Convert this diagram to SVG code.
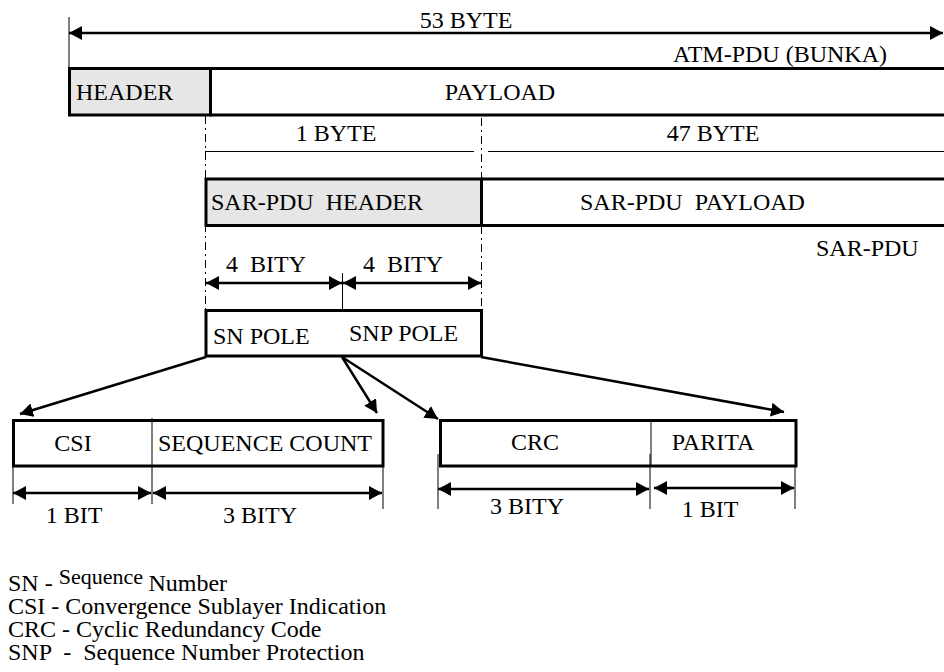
<svg xmlns="http://www.w3.org/2000/svg" width="944" height="672" viewBox="0 0 944 672">
  <style>
    text { font-family: "Liberation Serif", "Times New Roman", serif; font-size: 24px; fill: #000; white-space: pre; }
    .small { font-size: 22px; }
    .box { fill: #fff; stroke: #000; stroke-width: 3; }
    .gray { fill: #e6e6e6; }
    .thick { stroke: #000; stroke-width: 3; fill: none; }
    .dim { stroke: #000; stroke-width: 2.5; fill: none; }
    .thin { stroke: #000; stroke-width: 1; fill: none; }
    .guide { stroke: #000; stroke-width: 1; fill: none; stroke-dasharray: 8 4 2 4; }
    .mid { text-anchor: middle; }
  </style>
  <defs>
    <marker id="ah" viewBox="0 0 13 14" refX="13" refY="7" markerWidth="13" markerHeight="14" markerUnits="userSpaceOnUse" orient="auto-start-reverse">
      <path d="M0,0 L13,7 L0,14 Z" fill="#000"/>
    </marker>
  </defs>

  <!-- ATM cell: overall length -->
  <g id="atm-length">
    <line class="thin" x1="69" y1="17" x2="69" y2="68"/>
    <line class="dim" x1="69" y1="33" x2="943" y2="33" marker-start="url(#ah)" marker-end="url(#ah)"/>
    <text class="mid" x="466" y="28">53 BYTE</text>
    <text x="673" y="62">ATM-PDU (BUNKA)</text>
  </g>

  <!-- ATM cell: header + payload -->
  <g id="atm-header">
    <rect class="box gray" x="69.5" y="68.5" width="141" height="46.5"/>
    <text x="76" y="100">HEADER</text>
  </g>
  <g id="atm-payload">
    <path class="thick" d="M210,68.5 H946 M210,115 H946"/>
    <text class="mid" x="500" y="100">PAYLOAD</text>
  </g>

  <!-- byte split guides -->
  <g id="byte-split">
    <line class="guide" x1="205.5" y1="116" x2="205.5" y2="310"/>
    <line class="guide" x1="481.5" y1="118" x2="481.5" y2="310"/>
    <line class="thin" x1="205" y1="151.5" x2="474" y2="151.5"/>
    <line class="thin" x1="488" y1="151.5" x2="944" y2="151.5"/>
    <text class="mid" x="336" y="141">1 BYTE</text>
    <text class="mid" x="713" y="141">47 BYTE</text>
  </g>

  <!-- SAR-PDU -->
  <g id="sar-header">
    <rect class="box gray" x="206" y="179" width="275.5" height="46.5"/>
    <text x="211" y="210">SAR-PDU  HEADER</text>
  </g>
  <g id="sar-payload">
    <path class="thick" d="M481.5,179 H946 M481.5,225.5 H946"/>
    <text x="580" y="210">SAR-PDU  PAYLOAD</text>
    <text x="816" y="256">SAR-PDU</text>
  </g>

  <!-- 4 + 4 bits -->
  <g id="nibble-dims">
    <line class="thin" x1="342.5" y1="273" x2="342.5" y2="357"/>
    <line class="dim" x1="206" y1="283" x2="342" y2="283" marker-start="url(#ah)" marker-end="url(#ah)"/>
    <line class="dim" x1="343" y1="283" x2="481" y2="283" marker-start="url(#ah)" marker-end="url(#ah)"/>
    <text x="226" y="272">4  BITY</text>
    <text x="363" y="272">4  BITY</text>
  </g>

  <g id="sn-pole">
    <rect class="box" x="206" y="310.5" width="275.5" height="45.5"/>
    <text x="213" y="344">SN POLE</text>
    <text x="349" y="341">SNP POLE</text>
  </g>

  <!-- SN field -->
  <g id="sn-field">
    <rect class="box" x="13.5" y="420.5" width="369.5" height="45.5"/>
    <line class="thin" x1="152" y1="418" x2="152" y2="504"/>
    <text class="mid" x="73" y="451">CSI</text>
    <text x="158" y="451">SEQUENCE COUNT</text>
  </g>
  <g id="sn-dims">
    <line class="thin" x1="13" y1="466" x2="13" y2="504"/>
    <line class="thin" x1="383" y1="466" x2="383" y2="509"/>
    <line class="dim" x1="13" y1="493" x2="151" y2="493" marker-start="url(#ah)" marker-end="url(#ah)"/>
    <line class="dim" x1="153" y1="493" x2="382" y2="493" marker-start="url(#ah)" marker-end="url(#ah)"/>
    <text class="mid" x="74" y="523">1 BIT</text>
    <text class="mid" x="260" y="523">3 BITY</text>
  </g>

  <!-- SNP field -->
  <g id="snp-field">
    <rect class="box" x="440.5" y="420.5" width="355.5" height="45.5"/>
    <line class="thin" x1="651" y1="420" x2="651" y2="466"/>
    <text class="mid" x="535" y="450">CRC</text>
    <text class="mid" x="713" y="450">PARITA</text>
  </g>
  <g id="snp-dims">
    <line class="thin" x1="438" y1="454" x2="438" y2="509"/>
    <line class="thin" x1="650" y1="454" x2="650" y2="509"/>
    <line class="thin" x1="795" y1="466" x2="795" y2="509"/>
    <line class="dim" x1="438" y1="489" x2="649" y2="489" marker-start="url(#ah)" marker-end="url(#ah)"/>
    <line class="dim" x1="654" y1="488" x2="794" y2="488" marker-start="url(#ah)" marker-end="url(#ah)"/>
    <text class="mid" x="527" y="514">3 BITY</text>
    <text class="mid" x="710" y="517">1 BIT</text>
  </g>

  <!-- expansion connectors -->
  <g id="connectors">
    <line class="dim" x1="206" y1="357" x2="20" y2="414" marker-end="url(#ah)"/>
    <line class="dim" x1="342" y1="357" x2="377" y2="413" marker-end="url(#ah)"/>
    <line class="dim" x1="342" y1="357" x2="438" y2="419" marker-end="url(#ah)"/>
    <line class="dim" x1="481" y1="357" x2="784" y2="412" marker-end="url(#ah)"/>
  </g>

  <!-- legend -->
  <g id="legend">
    <text x="8" y="591">SN - <tspan class="small" dy="-7">Sequence </tspan><tspan dy="7">Number</tspan></text>
    <text x="8" y="614">CSI - Convergence Sublayer Indication</text>
    <text x="8" y="637">CRC - Cyclic Redundancy Code</text>
    <text x="8" y="660">SNP  -  Sequence Number Protection</text>
  </g>
</svg>
